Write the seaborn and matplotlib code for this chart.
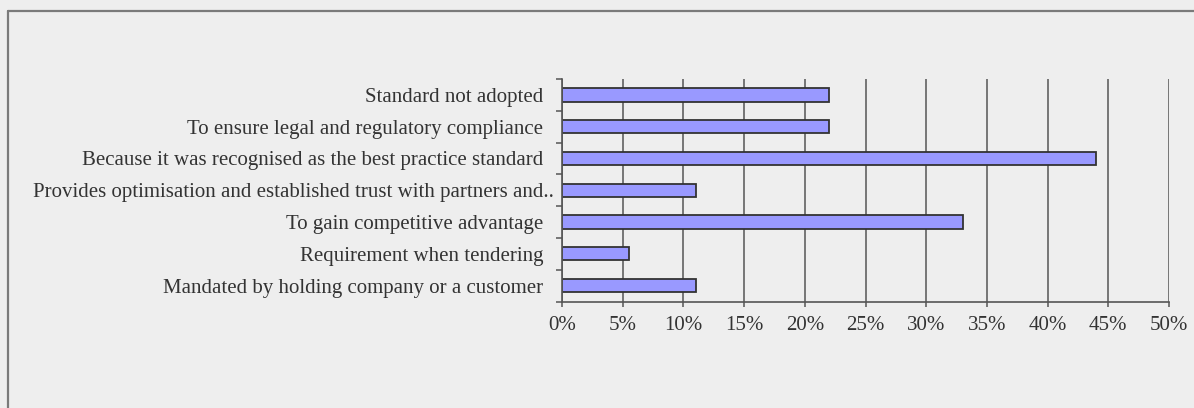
import matplotlib
matplotlib.use("Agg")
import matplotlib.pyplot as plt
import seaborn as sns
import pandas as pd
from matplotlib.lines import Line2D
from matplotlib.transforms import ScaledTranslation

# Reasons for adopting the standard and share of respondents (%)
reasons = [
    "Standard not adopted",
    "To ensure legal and regulatory compliance",
    "Because it was recognised as the best practice standard",
    "Provides optimisation and established trust with partners and..",
    "To gain competitive advantage",
    "Requirement when tendering",
    "Mandated by holding company or a customer",
]
shares = [22, 22, 44, 11, 33, 5.5, 11]
x_ticks = [0, 5, 10, 15, 20, 25, 30, 35, 40, 45, 50]
x_tick_labels = [f"{t}%" for t in x_ticks]

sns.set_theme(style="white")
plt.rcParams["font.family"] = ["Liberation Serif", "DejaVu Serif"]

W, H = 1194, 408
bg = "#eeeeee"
line_col = "#555555"
text_col = "#333333"

fig = plt.figure(figsize=(W / 100, H / 100), dpi=100, facecolor=bg)
ax = fig.add_axes([562 / W, 1 - 301.5 / H, 607 / W, 222.5 / H])
ax.set_facecolor(bg)

df = pd.DataFrame({"reason": reasons, "share": shares})
sns.barplot(data=df, x="share", y="reason", orient="h", color="#9999ff",
            saturation=1, width=0.42, edgecolor="#333333", linewidth=1.3,
            ax=ax)

ax.set_axisbelow(True)
ax.set_xlim(0, 50)
ax.set_ylim(len(reasons) - 0.5, -0.5)
ax.set_xlabel("")
ax.set_ylabel("")

ax.set_xticks(x_ticks)
ax.set_xticklabels(x_tick_labels)
ax.xaxis.grid(True, color=line_col, linewidth=1.1)
ax.yaxis.grid(False)

# category separators on the value axis
ax.set_yticks([i - 0.5 for i in range(len(reasons) + 1)], minor=True)
ax.tick_params(axis="y", which="major", length=0, pad=13.5,
               labelsize=15, labelcolor=text_col)
ax.tick_params(axis="y", which="minor", length=4.3, width=1.1,
               color=line_col, direction="out", left=True)
ax.tick_params(axis="x", which="major", length=3.6, width=1.1,
               color=line_col, direction="out", bottom=True, pad=6.5,
               labelsize=15, labelcolor=text_col)

# the truncated label lets its trailing dots run past the alignment edge
for lab in ax.get_yticklabels():
    if lab.get_text().endswith(".."):
        lab.set_transform(lab.get_transform()
                          + ScaledTranslation(11 / 100, 0, fig.dpi_scale_trans))

for side in ("top", "right"):
    ax.spines[side].set_visible(False)
for side in ("left", "bottom"):
    ax.spines[side].set_color(line_col)
    ax.spines[side].set_linewidth(1.2)

# outer frame: left and top edges only
fx, fy = 7.5 / W, 1 - 10.5 / H
frame_kw = dict(transform=fig.transFigure, color="#7a7a7a", linewidth=1.6)
fig.add_artist(Line2D([fx, fx], [0, fy], **frame_kw))
fig.add_artist(Line2D([fx, 1], [fy, fy], **frame_kw))

fig.savefig("out.png", dpi=100, facecolor=bg)
